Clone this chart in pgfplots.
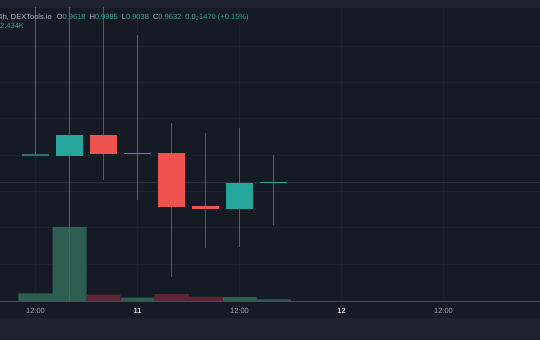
\documentclass[border=0pt]{standalone}
\usepackage{pgfplots}
\pgfplotsset{compat=1.18}
\usepackage{fontspec}
\setmainfont{Liberation Sans}
\definecolor{bg}{RGB}{22,26,37}
\definecolor{band}{RGB}{30,34,45}
\definecolor{gridc}{RGB}{29,33,45}
\definecolor{pline}{RGB}{44,48,60}
\definecolor{axisc}{RGB}{72,76,88}
\definecolor{upc}{RGB}{38,166,154}
\definecolor{downc}{RGB}{239,83,80}
\definecolor{upw}{RGB}{48,112,115}
\definecolor{downw}{RGB}{150,62,70}
\definecolor{volup}{RGB}{46,94,80}
\definecolor{voldown}{RGB}{94,38,52}
\definecolor{tickc}{RGB}{160,164,175}
\definecolor{tickb}{RGB}{210,213,220}
\definecolor{hdr}{RGB}{178,181,190}
\pgfplotsset{base/.style={at={(0pt,39pt)}, anchor=south west, width=540pt, height=293pt,
  scale only axis, xmin=-4.176, xmax=59.35, clip=true},
  wick/.style={draw=#1, color=#1, line width=1pt, mark=none}}
\begin{document}
\begin{tikzpicture}[x=1pt,y=1pt]
\useasboundingbox (0,0) rectangle (540,340);
\clip (0,0) rectangle (540,340);
\fill[bg] (0,0) rectangle (540,340);
\fill[band] (0,332) rectangle (540,340);
\fill[band] (0,0) rectangle (540,22);

% grid + time labels
\begin{axis}[base, ymin=0.79909, ymax=1.20228, axis line style={draw=none},
  xtick={0,12,24,36,48},
  xticklabels={12:00,{\textbf{\color{tickb}11}},12:00,{\textbf{\color{tickb}12}},12:00},
  ytick={0.85,0.9,0.95,1.0,1.05,1.1,1.15}, yticklabels={},
  major tick length=0pt, grid=major, grid style={gridc, line width=0.8pt},
  xticklabel style={font=\fontsize{7.5}{8}\selectfont, text=tickc, yshift=-3.5pt}]
\addplot[draw=none] coordinates {(0,1)};
\end{axis}

% volume
\begin{axis}[base, ymin=0, ymax=419, hide axis]
\addplot[ybar, bar shift=0pt, bar width=4, fill=volup, draw=none]
  coordinates {(0,11) (4,106) (12,4.7) (24,5.7) (28,2.434)};
\addplot[ybar, bar shift=0pt, bar width=4, fill=voldown, draw=none]
  coordinates {(8,9) (16,10) (20,6.2)};
\end{axis}

\draw[axisc, line width=0.8pt] (0,39) -- (540,39);

% candles
\begin{axis}[base, ymin=0.79909, ymax=1.20228, hide axis]
\addplot[color=pline, line width=1pt] coordinates {(-5,0.9628) (60,0.9628)};
% wicks
\addplot[wick=upw] coordinates {(0,0.9993) (0,1.25)};
\addplot[wick=upw] coordinates {(4,0.75) (4,1.25)};
\addplot[wick=downw] coordinates {(8,0.9656) (8,1.25)};
\addplot[wick=upw] coordinates {(12,0.9381) (12,1.1651)};
\addplot[wick=downw] coordinates {(16,0.8321) (16,1.0440)};
\addplot[wick=downw] coordinates {(20,0.8720) (20,1.0303)};
\addplot[wick=upw] coordinates {(24,0.8734) (24,1.0372)};
\addplot[wick=upw] coordinates {(28,0.9038) (28,0.9995)};
% bodies
\addplot[fill=upw, draw=none] coordinates {(-1.588,0.9993) (1.588,0.9993) (1.588,1.0007) (-1.588,1.0007)};
\addplot[fill=upc, draw=none] coordinates {(2.412,0.9990) (5.588,0.9990) (5.588,1.0279) (2.412,1.0279)};
\addplot[fill=downc, draw=none] coordinates {(6.412,1.0014) (9.588,1.0014) (9.588,1.0279) (6.412,1.0279)};
\addplot[fill=upc, draw=none] coordinates {(10.412,1.0018) (13.588,1.0018) (13.588,1.0032) (10.412,1.0032)};
\addplot[fill=downc, draw=none] coordinates {(14.412,0.9284) (17.588,0.9284) (17.588,1.0028) (14.412,1.0028)};
\addplot[fill=downc, draw=none] coordinates {(18.412,0.9260) (21.588,0.9260) (21.588,0.9305) (18.412,0.9305)};
\addplot[fill=upc, draw=none] coordinates {(22.412,0.9257) (25.588,0.9257) (25.588,0.9615) (22.412,0.9615)};
\addplot[fill=upc, draw=none] coordinates {(26.412,0.9618) (29.588,0.9618) (29.588,0.9632) (26.412,0.9632)};
\end{axis}

\node[anchor=base west, inner sep=0pt, font=\fontsize{7.5}{9}\selectfont, text=hdr] at (-1.8,320.5)
 {4h, DEXTools.io\hspace{5pt}O\textcolor{upc}{0.9618}\hspace{4pt}H\textcolor{upc}{0.9995}\hspace{4pt}L\textcolor{upc}{0.9038}\hspace{4pt}C\textcolor{upc}{0.9632}\hspace{4pt}\textcolor{upc}{0.0\textsubscript{2}1470 (+0.15\%)}};
\node[anchor=base west, inner sep=0pt, font=\fontsize{7.5}{9}\selectfont, text=upc] at (0,311) {2.434K};
\end{tikzpicture}
\end{document}
